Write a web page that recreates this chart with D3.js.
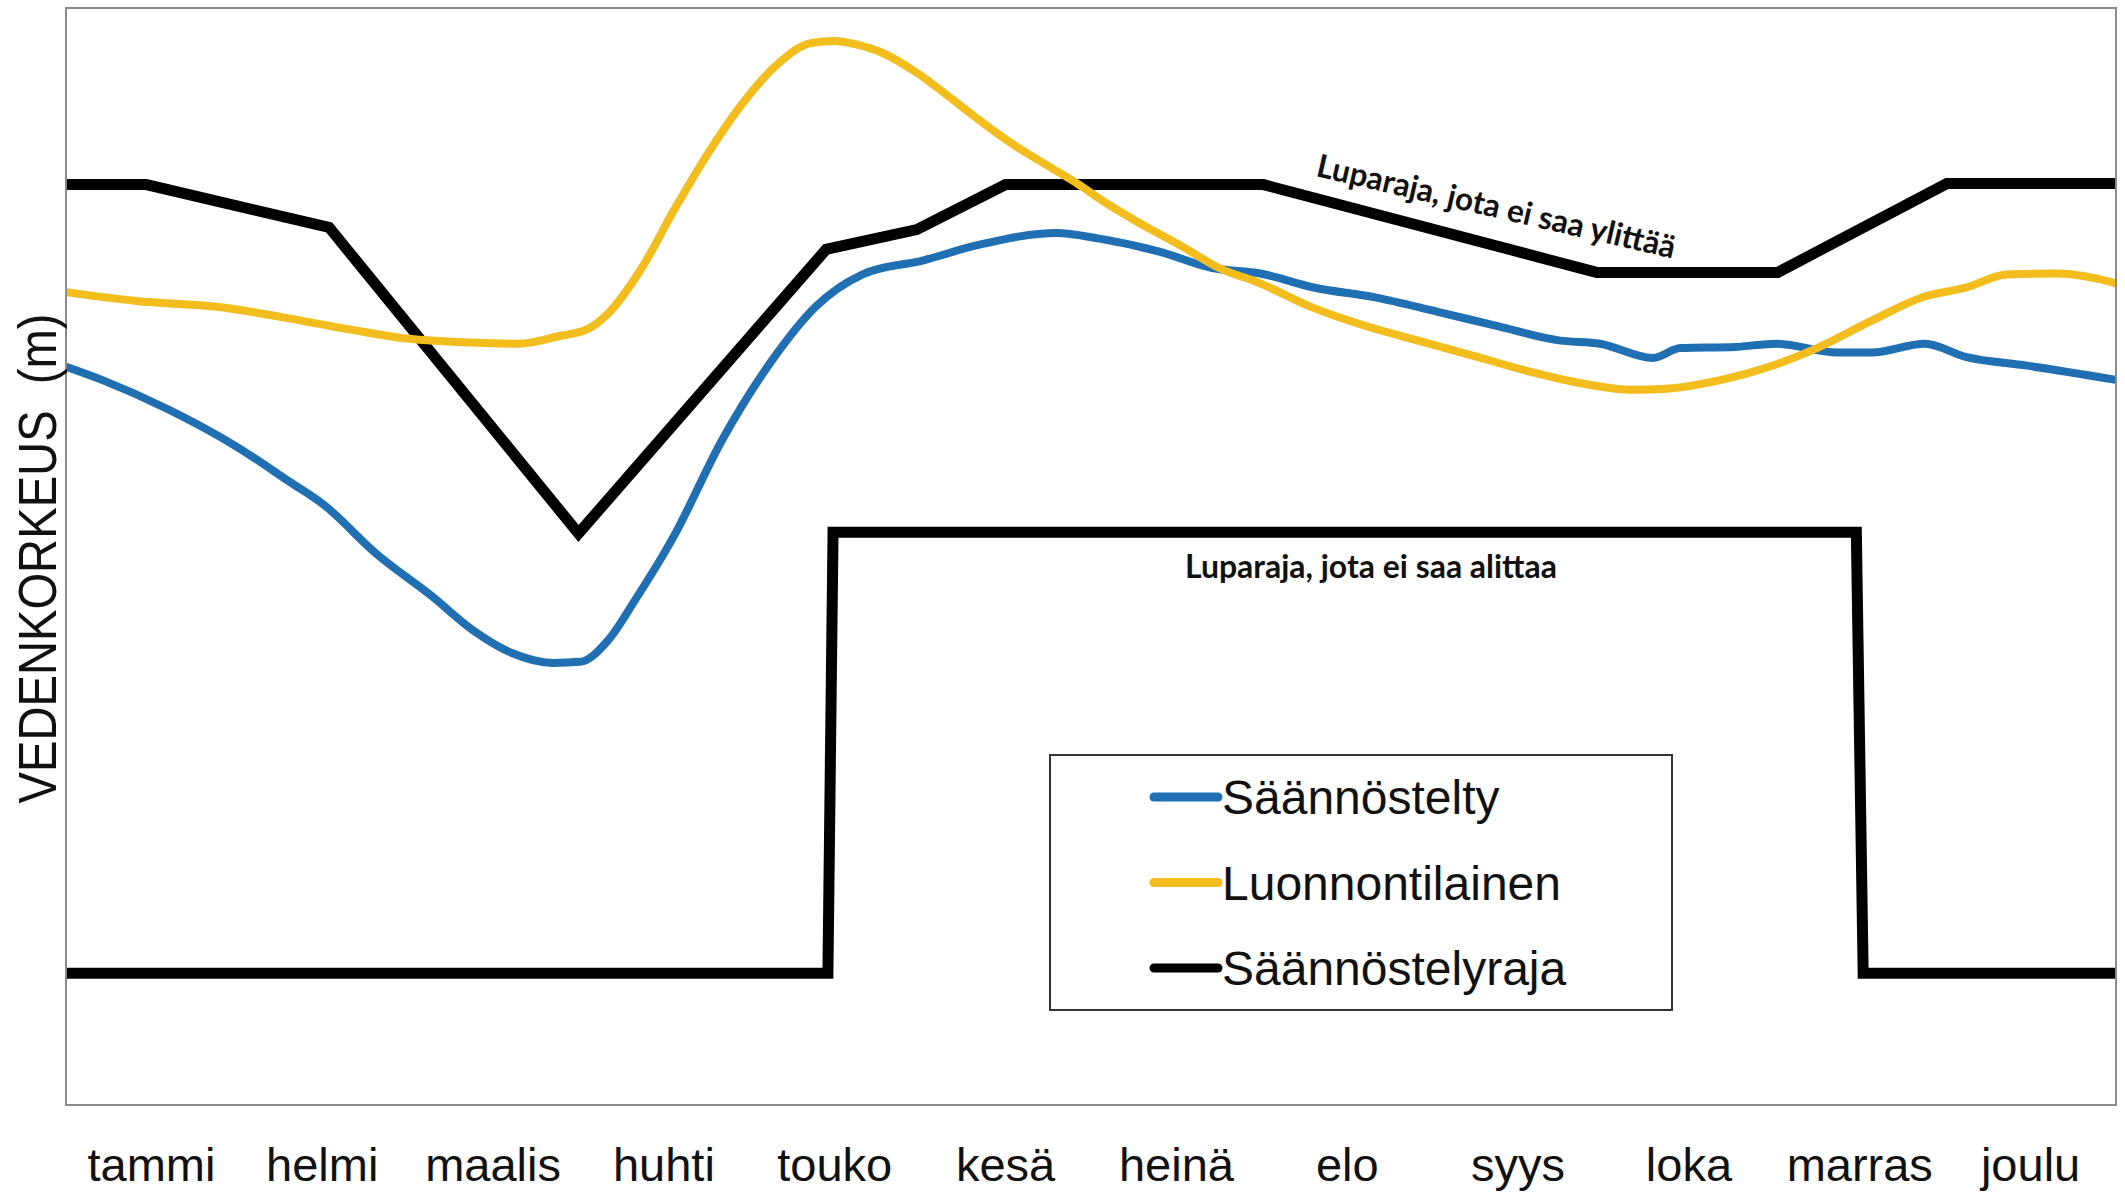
<!DOCTYPE html>
<html>
<head>
<meta charset="utf-8">
<script src="https://cdn.jsdelivr.net/npm/d3@7"></script>
<style>
  body { margin: 0; background: #fff; }
  svg { display: block; }
</style>
</head>
<body>
<div class="chart"></div>
<script>
// month names on the x axis
const months = ['tammi', 'helmi', 'maalis', 'huhti', 'touko', 'kesä',
                'heinä', 'elo', 'syys', 'loka', 'marras', 'joulu'];

// [month (0..12), relative water level]
const saannostelty = [
  [0.00, 67.3], [0.21, 66.1], [0.60, 63.4], [1.00, 60.0], [1.31, 56.8], [1.51, 54.7],
  [1.82, 50.2], [2.14, 46.4], [2.38, 43.3], [2.61, 41.2], [2.85, 40.3], [3.01, 40.4],
  [3.17, 42.3], [3.33, 46.0], [3.56, 51.9], [3.84, 60.6], [4.12, 67.6], [4.39, 72.8],
  [4.66, 75.7], [5.02, 77.0], [5.34, 78.4], [5.80, 79.5], [6.04, 79.0], [6.40, 77.8],
  [6.71, 76.3], [6.99, 75.8], [7.31, 74.5], [7.67, 73.6], [8.03, 72.3], [8.38, 71.0],
  [8.74, 69.7], [8.98, 69.4], [9.29, 68.1], [9.45, 69.0], [9.77, 69.1], [10.01, 69.4],
  [10.37, 68.6], [10.57, 68.6], [10.88, 69.4], [11.12, 68.2], [11.48, 67.4], [12.00, 66.1]
];

const luonnontilainen = [
  [0.00, 74.1], [0.41, 73.3], [0.92, 72.7], [1.27, 71.8], [1.66, 70.7], [1.98, 69.9],
  [2.38, 69.5], [2.65, 69.4], [2.89, 70.1], [3.05, 70.7], [3.17, 72.1], [3.37, 76.3],
  [3.56, 81.6], [3.76, 86.8], [3.96, 91.3], [4.16, 94.8], [4.36, 96.8], [4.50, 97.0],
  [4.62, 96.7], [4.78, 95.9], [4.98, 94.1], [5.17, 91.9], [5.37, 89.5], [5.57, 87.3],
  [5.76, 85.5], [5.92, 84.0], [6.08, 82.3], [6.25, 80.7], [6.54, 78.2], [6.75, 76.3],
  [6.99, 74.9], [7.28, 72.8], [7.59, 71.1], [7.91, 69.7], [8.26, 68.2], [8.58, 66.8],
  [8.90, 65.7], [9.17, 65.2], [9.37, 65.3], [9.69, 66.1], [9.97, 67.3], [10.25, 69.0],
  [10.57, 71.5], [10.88, 73.7], [11.12, 74.5], [11.36, 75.7], [11.64, 75.8], [11.87, 75.4],
  [12.00, 74.9]
];

// upper and lower permit limits
const rajaYla = [
  [0.00, 83.9], [0.47, 83.9], [1.54, 80.0], [3.00, 52.1], [4.45, 78.0], [4.98, 79.8],
  [5.50, 83.9], [7.01, 83.9], [8.96, 75.9], [10.02, 75.9], [11.01, 84.0], [12.00, 84.0]
];

const rajaAla = [
  [0.00, 12.0], [4.46, 12.0], [4.49, 52.2], [10.48, 52.2], [10.52, 12.0], [12.00, 12.0]
];

const legendItems = ['Säännöstelty', 'Luonnontilainen', 'Säännöstelyraja'];
const colors = ['#1f6fb2', '#f2bd1d', '#000000'];

const width = 2125;
const height = 1196;
const plotLeft = 66, plotRight = 2116, plotTop = 8, plotBottom = 1105;

const svg = d3
  .select('.chart')
  .append('svg')
  .attr('width', width)
  .attr('height', height);

const x = d3.scaleLinear().domain([0, 12]).range([plotLeft, plotRight]);
const y = d3.scaleLinear().domain([0, 100]).range([plotBottom, plotTop]);

const smooth = d3.line()
  .x(d => x(d[0]))
  .y(d => y(d[1]))
  .curve(d3.curveMonotoneX);

const straight = d3.line()
  .x(d => x(d[0]))
  .y(d => y(d[1]));

// limits first, then the two water level curves
svg.append('path')
  .attr('d', straight(rajaAla))
  .attr('fill', 'none')
  .attr('stroke', colors[2])
  .attr('stroke-width', 11);

svg.append('path')
  .attr('d', straight(rajaYla))
  .attr('fill', 'none')
  .attr('stroke', colors[2])
  .attr('stroke-width', 11);

svg.append('path')
  .attr('d', smooth(saannostelty))
  .attr('fill', 'none')
  .attr('stroke', colors[0])
  .attr('stroke-width', 8)
  .attr('stroke-linejoin', 'round');

svg.append('path')
  .attr('d', smooth(luonnontilainen))
  .attr('fill', 'none')
  .attr('stroke', colors[1])
  .attr('stroke-width', 8)
  .attr('stroke-linejoin', 'round');

// plot frame
svg.append('rect')
  .attr('x', plotLeft)
  .attr('y', plotTop)
  .attr('width', plotRight - plotLeft)
  .attr('height', plotBottom - plotTop)
  .attr('fill', 'none')
  .attr('stroke', '#8a8a8a')
  .attr('stroke-width', 2);

// month labels, centred in each month
svg.selectAll('.month')
  .data(months)
  .enter()
  .append('text')
  .attr('class', 'month')
  .attr('x', (d, i) => x(i + 0.5))
  .attr('y', 1181)
  .attr('text-anchor', 'middle')
  .attr('font-family', 'Liberation Sans, Arial, sans-serif')
  .attr('font-size', 47)
  .attr('fill', '#111')
  .text(d => d);

// y axis title
svg.append('text')
  .attr('transform', 'translate(56,' + ((plotTop + plotBottom) / 2 + 2) + ') rotate(-90)')
  .attr('text-anchor', 'middle')
  .attr('font-family', 'Liberation Sans, Arial, sans-serif')
  .attr('font-size', 53)
  .attr('fill', '#111')
  .attr('textLength', 490)
  .attr('lengthAdjust', 'spacingAndGlyphs')
  .style('white-space', 'pre')
  .text('VEDENKORKEUS  (m)');

// notes on the limit lines
svg.append('text')
  .attr('transform', 'translate(1315,176) rotate(13)')
  .attr('font-family', 'Lato, Open Sans, sans-serif')
  .attr('font-weight', 'bold')
  .attr('font-size', 32)
  .attr('fill', '#111')
  .attr('textLength', 367)
  .attr('lengthAdjust', 'spacingAndGlyphs')
  .text('Luparaja, jota ei saa ylittää');

svg.append('text')
  .attr('x', 1185)
  .attr('y', 578)
  .attr('font-family', 'Lato, Open Sans, sans-serif')
  .attr('font-weight', 'bold')
  .attr('font-size', 32)
  .attr('fill', '#111')
  .attr('textLength', 372)
  .attr('lengthAdjust', 'spacingAndGlyphs')
  .text('Luparaja, jota ei saa alittaa');

// legend box
const legend = svg.append('g');

legend.append('rect')
  .attr('x', 1050)
  .attr('y', 755)
  .attr('width', 622)
  .attr('height', 255)
  .attr('fill', '#fff')
  .attr('stroke', '#333')
  .attr('stroke-width', 2);

const legendY = d3.scalePoint().domain(legendItems).range([797, 968]);

legend.selectAll('line')
  .data(legendItems)
  .enter()
  .append('line')
  .attr('x1', 1154)
  .attr('x2', 1218)
  .attr('y1', d => legendY(d))
  .attr('y2', d => legendY(d))
  .attr('stroke', (d, i) => colors[i])
  .attr('stroke-width', 9)
  .attr('stroke-linecap', 'round');

legend.selectAll('text')
  .data(legendItems)
  .enter()
  .append('text')
  .attr('x', 1222)
  .attr('y', d => legendY(d) + 17)
  .attr('font-family', 'Liberation Sans, Arial, sans-serif')
  .attr('font-size', 48)
  .attr('fill', '#111')
  .text(d => d);
</script>
</body>
</html>
